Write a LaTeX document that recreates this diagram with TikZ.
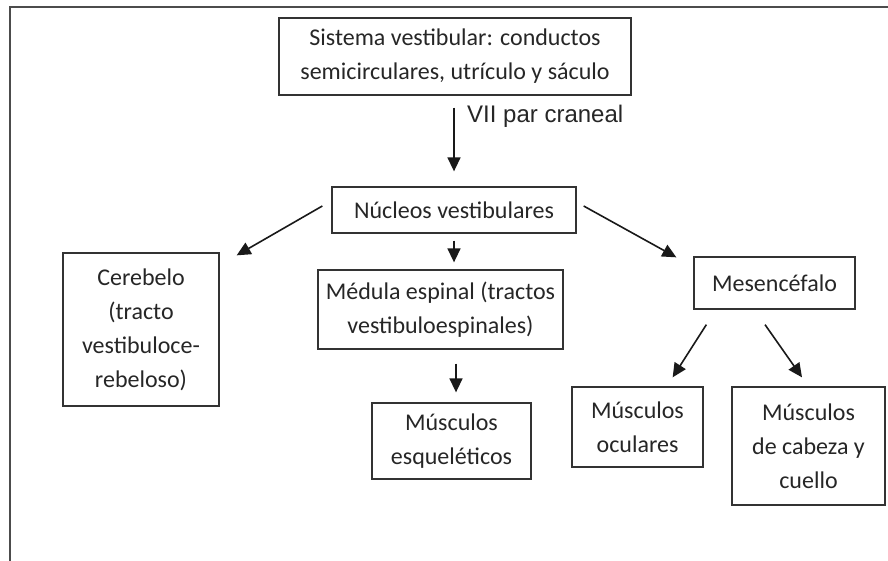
\documentclass[tikz,border=0pt]{standalone}
\usepackage{fontspec}
\setmainfont{Carlito}
\newfontfamily\arialfont{Liberation Sans}
\usetikzlibrary{arrows.meta,calc}

\tikzset{
	box/.style={draw=black!80, line width=1.3pt, align=center, inner sep=0pt, text=black!85, font=\fontsize{24}{34}\selectfont},
	arr/.style={line width=1.6pt, draw=black!90, arrows={-Triangle[length=14pt,width=13pt]}},
}

\begin{document}
\begin{tikzpicture}[x=1pt,y=-1pt]
	
	\useasboundingbox (0,0) rectangle (888,561);
	\draw[line width=2pt, black!70] (10,561) |- (888,7);
	
	\node[box, minimum width=352pt, minimum height=77pt] (sistema) at (455, 56.5) {Sistema vestibular: conductos\\semicirculares, utrículo y sáculo};
	\node[box, minimum width=244pt, minimum height=46pt] (nucleos) at (454, 210) {Núcleos vestibulares};
	\node[box, minimum width=156pt, minimum height=153pt] (cerebelo) at (141, 329.5) {Cerebelo\\(tracto\\vestibuloce-\\rebeloso)};
	\node[box, minimum width=245pt, minimum height=79pt] (medula) at (440.5, 309.5) {Médula espinal (tractos\\vestibuloespinales)};
	\node[box, minimum width=159pt, minimum height=76pt] (musesq) at (451.5, 441) {Músculos\\esqueléticos};
	\node[box, minimum width=161pt, minimum height=52pt] (mesen) at (774.5, 283) {Mesencéfalo};
	\node[box, minimum width=131pt, minimum height=80pt] (musocu) at (637.5, 427) {Músculos\\oculares};
	\node[box, minimum width=153pt, minimum height=118pt] (muscab) at (808.5, 446) {Músculos\\de cabeza y\\cuello};
	\node[anchor=base west, inner sep=0pt, text=black!85, font=\arialfont\fontsize{24}{28}\selectfont] (nervio) at (467, 123) {VII par craneal};
	
	\draw[arr] ($(sistema.south)+(-1,12)$) -- ($(nucleos.north)+(0,-15)$);
	\draw[arr] ($(nucleos.west)+(-9,-4)$) -- ($(cerebelo.north east)+(17,3)$);
	\draw[arr] ($(nucleos.south)+(0,7)$) -- ($(nucleos.south |- medula.north)+(0,-7)$);
	\draw[arr] ($(nucleos.east)+(7,-4)$) -- ($(mesen.north west)+(-17,1)$);
	\draw[arr] ($(nucleos.south |- medula.south)+(2,14)$) -- ($(nucleos.south |- musesq.north)+(2,-10)$);
	\draw[arr] ($(mesen.south west)+(13,15)$) -- ($(musocu.north east)+(-31,-9)$);
	\draw[arr] ($(mesen.south)+(-9.5,15)$) -- ($(muscab.north)+(-6.5,-9)$);
	
\end{tikzpicture}
\end{document}
